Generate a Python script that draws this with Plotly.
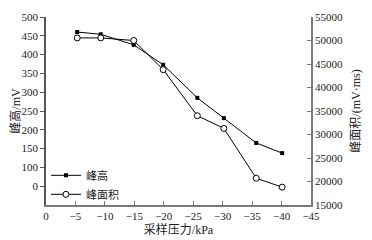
import plotly.graph_objects as go

pressure = [-5.3, -9.3, -14.9, -19.9, -25.7, -30.2, -35.7, -40.1]
peak_height = [460, 454, 426, 373, 285, 231, 165, 138]
peak_area = [50550, 50550, 50000, 43800, 34000, 31300, 20700, 18800]

x_ticks = [0, -5, -10, -15, -20, -25, -30, -35, -40, -45]
left_tickvals = [50, 100, 150, 200, 250, 300, 350, 400, 450, 500]
left_ticktext = ["0", "100", "150", "200", "250", "300", "350", "400", "450", "500"]
right_ticks = [15000, 20000, 25000, 30000, 35000, 40000, 45000, 50000, 55000]

FONT = "Liberation Serif, Noto Sans CJK SC, serif"
AX = "#7a7a7a"

fig = go.Figure()
fig.add_trace(go.Scatter(
    x=pressure, y=peak_height, name="峰高", mode="lines+markers",
    line=dict(color="black", width=1),
    marker=dict(symbol="square", size=4, color="black"),
    yaxis="y"))
fig.add_trace(go.Scatter(
    x=pressure, y=peak_area, name="峰面积", mode="lines+markers",
    line=dict(color="black", width=1),
    marker=dict(symbol="circle", size=6, color="white",
                line=dict(color="black", width=1)),
    yaxis="y2"))

fig.update_layout(
    width=372, height=240,
    margin=dict(l=38, r=69, t=9, b=43),
    paper_bgcolor="white", plot_bgcolor="white",
    font=dict(family=FONT, size=11, color="#222"),
    showlegend=True,
    legend=dict(x=0.0, y=0.235, xanchor="left", yanchor="top",
                bgcolor="rgba(0,0,0,0)", font=dict(size=11),
                itemwidth=30, tracegroupgap=0),
    xaxis=dict(range=[0, -45], tickvals=x_ticks, ticks="inside", ticklen=4,
               showline=True, linecolor=AX, linewidth=1.5, tickcolor=AX,
               showgrid=False, zeroline=False, automargin=False,
               title=dict(text="采样压力/kPa", standoff=4, font=dict(size=12))),
    yaxis=dict(range=[0, 500], tickvals=left_tickvals, ticktext=left_ticktext,
               ticks="outside", ticklen=4, showline=True, linecolor="#555",
               linewidth=1.5, tickcolor="#555", showgrid=False, zeroline=False,
               automargin=False,
               title=dict(text="峰高/mV", standoff=6, font=dict(size=12))),
    yaxis2=dict(range=[15000, 55000], tickvals=right_ticks, tickformat="d",
                overlaying="y", side="right", ticks="inside", ticklen=4,
                showline=True, linecolor=AX, linewidth=1.5, tickcolor=AX,
                showgrid=False, zeroline=False, automargin=False,
                title=dict(text="峰面积/(mV·ms)", standoff=10, font=dict(size=12))),
)

fig.write_html("out.html")
